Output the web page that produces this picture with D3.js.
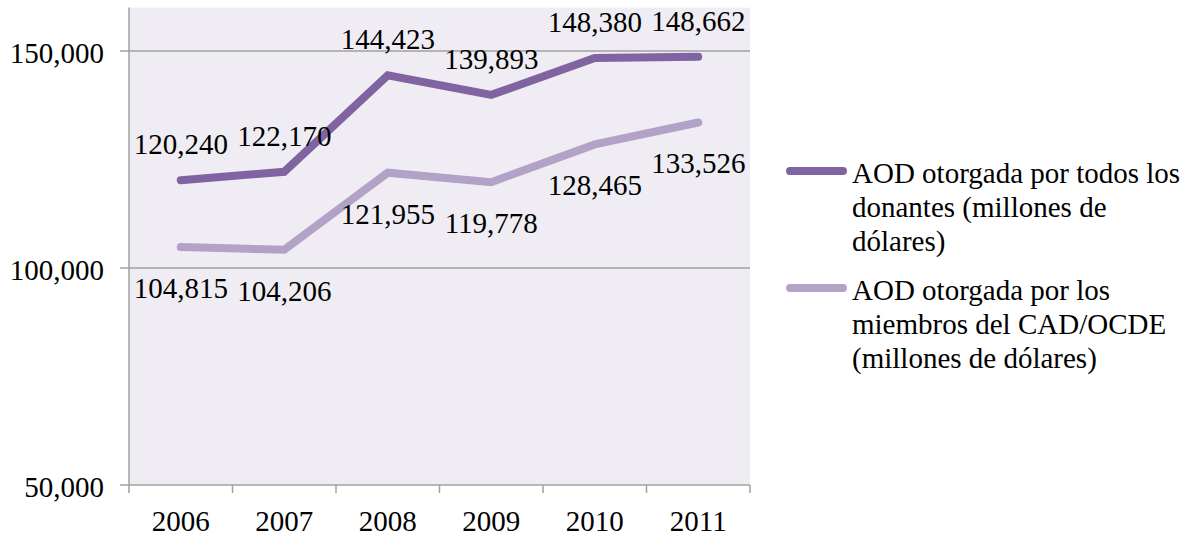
<!DOCTYPE html>
<html>
<head>
<meta charset="utf-8">
<script src="https://cdn.jsdelivr.net/npm/d3@7"></script>
<style>
  body { margin: 0; background: #fff; }
  svg { display: block; }
  text { font-family: "Liberation Serif", "Times New Roman", serif; fill: #000; }
</style>
</head>
<body>
<svg id="chart" width="1190" height="537"></svg>
<script>
const years = ["2006", "2007", "2008", "2009", "2010", "2011"];
const allDonors = [120240, 122170, 144423, 139893, 148380, 148662];
const dacMembers = [104815, 104206, 121955, 119778, 128465, 133526];
const yTicks = [50000, 100000, 150000];
const seriesNames = [
  ["AOD otorgada por todos los", "donantes (millones de", "dólares)"],
  ["AOD otorgada por los", "miembros del CAD/OCDE", "(millones de dólares)"]
];
const colors = ["#8064a2", "#b3a2c7"];

(function () {
const svg = d3.select("#chart");
const mLeft = 129, mRight = 750, mBottom = 485;
const fs = 29;

const x = d3.scaleBand().domain(years).range([mLeft, mRight]);
const y = d3.scaleLinear().domain([50000, 160000]).range([mBottom, 485 - 477.4]);
const fmt = d3.format(",");

svg.append("rect").attr("x", mLeft).attr("y", y(160000))
  .attr("width", mRight - mLeft).attr("height", mBottom - y(160000))
  .attr("fill", "#efedf3");

svg.append("g").selectAll("line").data(yTicks).join("line")
  .attr("x1", 120).attr("x2", mRight)
  .attr("y1", d => y(d)).attr("y2", d => y(d))
  .attr("stroke", "#a0a0a0").attr("stroke-width", 1.5);

svg.append("line").attr("x1", mLeft).attr("x2", mLeft)
  .attr("y1", y(160000)).attr("y2", mBottom)
  .attr("stroke", "#a0a0a0").attr("stroke-width", 1.5);

const xb = years.map(d => x(d)).concat([mRight]);
svg.append("g").selectAll("line").data(xb).join("line")
  .attr("x1", d => d).attr("x2", d => d)
  .attr("y1", mBottom).attr("y2", mBottom + 8)
  .attr("stroke", "#a0a0a0").attr("stroke-width", 1.5);

svg.append("g").selectAll("text").data(yTicks).join("text")
  .attr("x", 104).attr("y", d => y(d) + 2)
  .attr("text-anchor", "end").attr("dominant-baseline", "central")
  .attr("font-size", fs).text(d => fmt(d));

svg.append("g").selectAll("text").data(years).join("text")
  .attr("x", d => x(d) + x.bandwidth() / 2).attr("y", mBottom + 36)
  .attr("text-anchor", "middle").attr("dominant-baseline", "central")
  .attr("font-size", fs).text(d => d);

const line = d3.line()
  .x((d, i) => x(years[i]) + x.bandwidth() / 2)
  .y(d => y(d));

[[dacMembers, colors[1]], [allDonors, colors[0]]].forEach(([s, c]) => {
  svg.append("path").datum(s).attr("d", line)
    .attr("fill", "none").attr("stroke", c).attr("stroke-width", 8)
    .attr("stroke-linecap", "round").attr("stroke-linejoin", "miter");
});

svg.append("g").selectAll("text").data(allDonors).join("text")
  .attr("x", (d, i) => x(years[i]) + x.bandwidth() / 2)
  .attr("y", d => y(d) - 36)
  .attr("text-anchor", "middle").attr("dominant-baseline", "central")
  .attr("font-size", fs).text(d => fmt(d));

svg.append("g").selectAll("text").data(dacMembers).join("text")
  .attr("x", (d, i) => x(years[i]) + x.bandwidth() / 2)
  .attr("y", d => y(d) + 41)
  .attr("text-anchor", "middle").attr("dominant-baseline", "central")
  .attr("font-size", fs).text(d => fmt(d));

const legY = [171, 288];
const lineH = 34;
seriesNames.forEach((lines, k) => {
  const g = svg.append("g");
  g.append("line").attr("x1", 790).attr("x2", 843)
    .attr("y1", legY[k]).attr("y2", legY[k])
    .attr("stroke", colors[k]).attr("stroke-width", 8).attr("stroke-linecap", "round");
  g.selectAll("text").data(lines).join("text")
    .attr("x", 852).attr("y", (d, i) => legY[k] + 2 + i * lineH)
    .attr("dominant-baseline", "central")
    .attr("font-size", fs).text(d => d);
});
})();
</script>
</body>
</html>
